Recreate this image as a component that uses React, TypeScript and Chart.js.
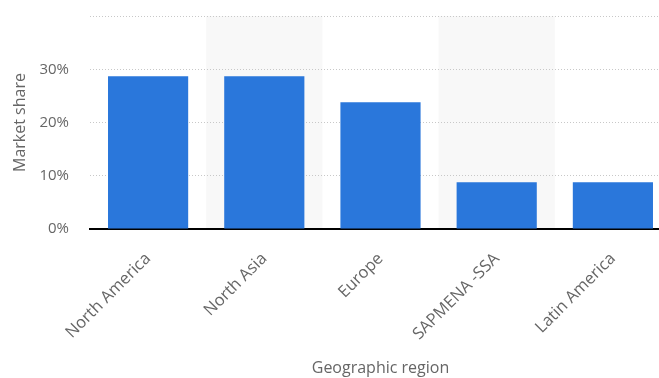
import React, { useEffect, useRef } from "react";
import { Chart, registerables } from "chart.js";

Chart.register(...registerables);

const regions = ["North America", "North Asia", "Europe", "SAPMENA -SSA", "Latin America"];
const marketShare = [28.7, 28.7, 23.8, 8.8, 8.8];
const yTickValues = [0, 10, 20, 30, 40];

const FONT = "'Open Sans', 'DejaVu Sans', sans-serif";
const TEXT_GREY = "#666666";

// Light alternating column bands behind every second category
const bandPlugin = {
  id: "categoryBands",
  beforeDraw(chart: any) {
    const { ctx, chartArea, scales } = chart;
    const x = scales.x;
    const step = (chartArea.right - chartArea.left) / regions.length;
    ctx.save();
    ctx.fillStyle = "#f8f8f8";
    regions.forEach((_, i) => {
      if (i % 2 === 1) {
        const c = x.getPixelForValue(i);
        ctx.fillRect(c - step / 2, chartArea.top, step, chartArea.bottom - chartArea.top);
      }
    });
    ctx.restore();
  },
};

export default function App() {
  const ref = useRef<HTMLCanvasElement | null>(null);

  useEffect(() => {
    document.body.style.margin = "0";
    if (!ref.current) return;
    const chart = new Chart(ref.current, {
      type: "bar",
      data: {
        labels: regions,
        datasets: [
          {
            label: "Market share",
            data: marketShare,
            backgroundColor: "#2a77db",
            borderWidth: 0,
            categoryPercentage: 1,
            barPercentage: 0.69,
          },
        ],
      },
      plugins: [bandPlugin],
      options: {
        animation: false,
        responsive: false,
        maintainAspectRatio: false,
        layout: { padding: { top: 16, right: 0, left: 0, bottom: 0 } },
        plugins: {
          legend: { display: false },
          tooltip: { enabled: false },
        },
        scales: {
          x: {
            grid: { drawOnChartArea: false, drawTicks: false },
            border: { display: true, color: "#000000", width: 2 },
            ticks: {
              autoSkip: false,
              maxRotation: 45,
              minRotation: 45,
              padding: 20,
              color: TEXT_GREY,
              font: { family: FONT, size: 16.5 },
            },
            title: {
              display: true,
              text: "Geographic region",
              color: TEXT_GREY,
              font: { family: FONT, size: 16 },
              padding: { top: 0, bottom: 0 },
            },
            afterFit(scale: any) {
              scale.height = 149;
              scale.paddingTop = 0;
              scale.paddingBottom = 0;
            },
          },
          y: {
            min: 0,
            max: 40,
            afterBuildTicks(scale: any) {
              scale.ticks = yTickValues.map((v) => ({ value: v }));
            },
            grid: { color: "#c8c8c8", lineWidth: 1, drawTicks: false },
            border: { display: false, dash: [1, 2] },
            ticks: {
              padding: 21,
              color: TEXT_GREY,
              font: { family: FONT, size: 15 },
              callback: (v: any) => (v === 40 ? "" : v + "%"),
            },
            title: {
              display: true,
              text: "Market share",
              color: TEXT_GREY,
              font: { family: FONT, size: 16 },
              padding: { top: 11, bottom: 0 },
            },
            afterFit(scale: any) {
              scale.width = 90;
              scale.paddingTop = 0;
              scale.paddingBottom = 0;
            },
          },
        },
      },
    });
    return () => chart.destroy();
  }, []);

  return (
    <div style={{ position: "fixed", left: 0, top: 0, width: 659, height: 378, overflow: "hidden", background: "#fff" }}>
      <canvas ref={ref} width={671} height={378} style={{ display: "block" }} />
    </div>
  );
}
